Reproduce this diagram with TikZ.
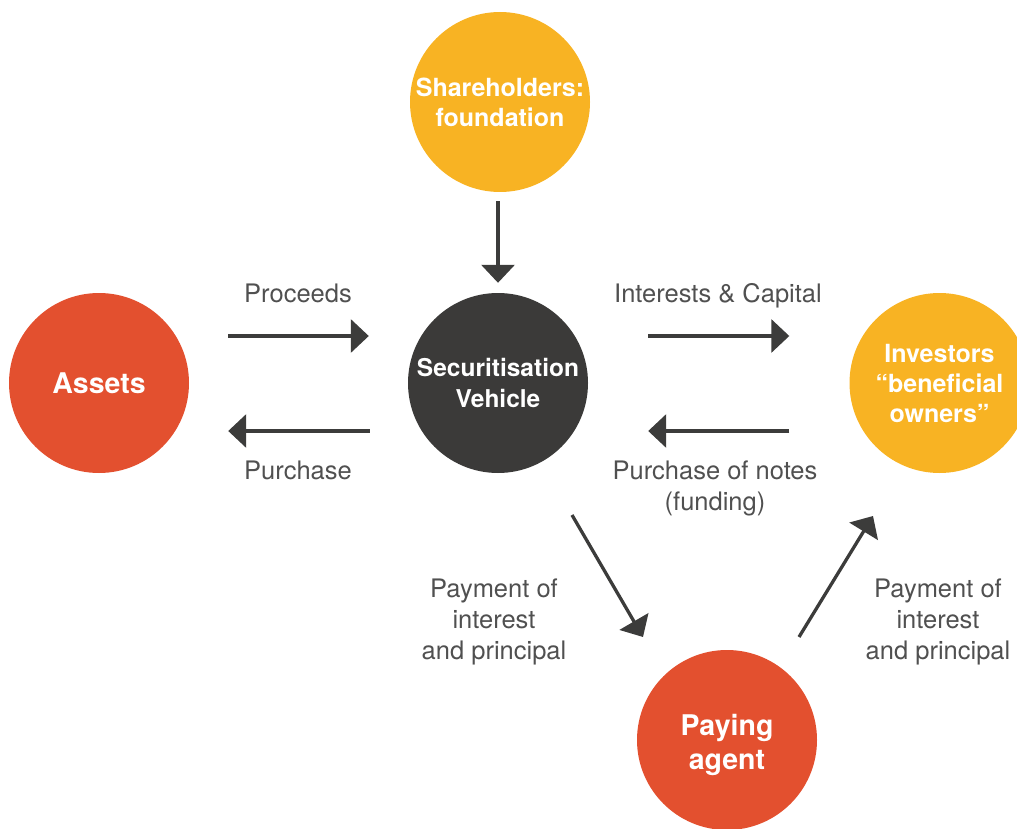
\documentclass[tikz,border=0pt]{standalone}
\usepackage{fontspec}
\setmainfont{TeX Gyre Heros}
\usetikzlibrary{arrows.meta}
\definecolor{cred}{HTML}{E3502F}
\definecolor{cyel}{HTML}{F8B323}
\definecolor{cdark}{HTML}{3B3A39}
\definecolor{carrow}{HTML}{3C3C3B}
\definecolor{clabel}{HTML}{505050}
\tikzset{
  bubble/.style={circle, minimum size=180pt, inner sep=0pt, text=white, align=center,
    font=\bfseries\fontsize{25}{30}\selectfont},
  bigtext/.style={font=\bfseries\fontsize{28.5}{34}\selectfont},
  arr/.style={draw=carrow, line width=3.3pt, -{Triangle[length=18pt,width=33pt]}},
  lbl/.style={text=clabel, align=center, font=\fontsize{25.5}{31}\selectfont, inner sep=0pt}
}
\begin{document}
\begin{tikzpicture}[x=1pt,y=-1pt]
\useasboundingbox (0,0) rectangle (1017,829);
% circles
\node[bubble, fill=cyel] (sh) at (500,102) {Shareholders:\\foundation};
\node[bubble, bigtext, fill=cred] (as) at (99,383) {Assets};
\node[bubble, fill=cdark, font=\bfseries\fontsize{24.5}{31}\selectfont] (sv) at (498,383) {Securitisation\\Vehicle};
\node[bubble, fill=cyel] (inv) at (939.5,383) {Investors\\“beneficial\\owners”};
\node[bubble, fill=cred] (pa) at (727,740) {};
\node[bubble, bigtext, minimum size=0pt] (patext) at (727,745) {Paying\\agent};
% arrows
\draw[arr] ([xshift=-2pt,yshift=-9pt]sh.south) -- ([yshift=10pt]sv.north);
\draw[arr] ([xshift=39pt,yshift=47pt]as.east) -- ([xshift=-39pt,yshift=47pt]sv.west);
\draw[arr] ([xshift=-38pt,yshift=-48pt]sv.west) -- ([xshift=39pt,yshift=-48pt]as.east);
\draw[arr] ([xshift=60pt,yshift=47pt]sv.east) -- ([xshift=-60pt,yshift=47pt]inv.west);
\draw[arr] ([xshift=-60pt,yshift=-48pt]inv.west) -- ([xshift=60pt,yshift=-48pt]sv.east);
\draw[arr] ([xshift=74pt,yshift=-132pt]sv.center) -- ([xshift=-84pt,yshift=103pt]pa.center);
\draw[arr] ([xshift=72pt,yshift=103pt]pa.center) -- ([xshift=-66.5pt,yshift=-133pt]inv.center);
% labels
\node[lbl, anchor=base] (lpro) at (298,302) {Proceeds};
\node[lbl, anchor=base] (lpur) at (298,479) {Purchase};
\node[lbl, anchor=base] (lint) at (718,302) {Interests \& Capital};
\node[lbl, anchor=base] (lnot) at (715,510) {Purchase of notes\\(funding)};
\node[lbl, anchor=base] (lpay1) at (494,659) {Payment of\\interest\\and principal};
\node[lbl, anchor=base] (lpay2) at (938,659) {Payment of\\interest\\and principal};
\end{tikzpicture}
\end{document}
